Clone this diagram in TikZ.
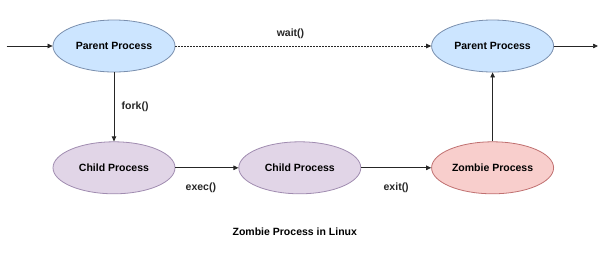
\documentclass[tikz,border=0pt]{standalone}
\usepackage{fontspec}
\setmainfont{Liberation Sans}
\usepackage{xcolor}
\usepackage{tikz}
\usetikzlibrary{shapes.geometric, arrows.meta, positioning}

\definecolor{parentfill}{HTML}{CCE5FF}
\definecolor{parentdraw}{HTML}{7A8FAE}
\definecolor{childfill}{HTML}{E1D5E7}
\definecolor{childdraw}{HTML}{A08CB0}
\definecolor{zombiefill}{HTML}{F8CECC}
\definecolor{zombiedraw}{HTML}{C07070}

\begin{document}
\begin{tikzpicture}[
	font=\fontsize{10.5}{12}\selectfont\bfseries,
	proc/.style={draw, ellipse, line width=0.8pt, minimum width=122pt, minimum height=52pt, inner sep=0pt, align=center},
	parentproc/.style={proc, draw=parentdraw, fill=parentfill},
	childproc/.style={proc, draw=childdraw, fill=childfill},
	zombieproc/.style={proc, draw=zombiedraw, fill=zombiefill},
	arrow/.style={-{Triangle[length=5pt,width=4.5pt]}, line width=0.7pt, black!85},
	dottedarrow/.style={arrow, dash pattern=on 1.5pt off 1.5pt}
]
	\useasboundingbox (-114pt,46pt) rectangle (486pt,-209pt);

	\node (parent) [parentproc] at (0,0) {Parent Process};
	\node (child) [childproc, below=69pt of parent] {Child Process};
	\node (execchild) [childproc, right=63pt of child] {Child Process};
	\node (zombie) [zombieproc, right=70pt of execchild] {Zombie Process};
	\node (reaped) [parentproc, above=69pt of zombie] {Parent Process};

	\coordinate (start) at ([xshift=-46pt]parent.west);
	\coordinate (finish) at ([xshift=44pt]reaped.east);

	\draw [arrow] (start) -- (parent);
	\draw [dottedarrow] (parent) -- node[above=4pt, pos=0.45] {wait()} (reaped);
	\draw [arrow] (reaped) -- (finish);
	\draw [arrow] (parent) -- node[right=4pt] {fork()} (child);
	\draw [arrow] (child) -- node[below=11pt, xshift=-6pt] {exec()} (execchild);
	\draw [arrow] (execchild) -- node[below=11pt] {exit()} (zombie);
	\draw [arrow] (zombie) -- (reaped);

	\node (caption) [below=30pt of execchild, xshift=-5pt] {Zombie Process in Linux};

\end{tikzpicture}
\end{document}
